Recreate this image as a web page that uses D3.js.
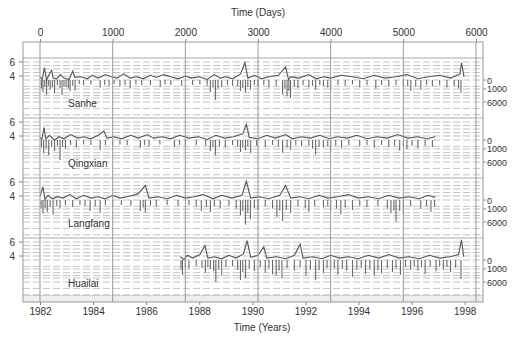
<!DOCTYPE html>
<html>
<head>
<meta charset="utf-8">
<script src="https://cdn.jsdelivr.net/npm/d3@7"></script>
<style>
  body { margin: 0; background: #fff; }
  text { font-family: "Liberation Sans", Arial, sans-serif; fill: #333; }
</style>
</head>
<body>
<script>
// stations, top to bottom
const stations = ['Sanhe', 'Qingxian', 'Langfang', 'Huailai']

const dayTicks = [0, 1000, 2000, 3000, 4000, 5000, 6000]
const yearTicks = [1982, 1984, 1986, 1988, 1990, 1992, 1994, 1996, 1998]
const levelTicks = [6, 4]
const rainTicks = [0, 1000, 6000]

// water level [day, value]
const sanheLevel = [[0,3.9],[30,3.5],[60,5.2],[90,3.4],[120,4.1],[160,4.8],[180,3.7],[230,3.6],[280,4.2],[330,3.7],[400,3.5],[450,4.7],[480,3.8],[560,3.9],[650,3.6],[720,4.1],[800,3.7],[900,4.2],[980,3.9],[1060,3.7],[1150,4.3],[1240,3.7],[1330,3.9],[1420,3.6],[1520,4.1],[1600,3.8],[1700,4.2],[1800,3.9],[1900,3.6],[2000,4.0],[2080,3.7],[2200,3.9],[2300,3.5],[2400,4.2],[2480,3.7],[2560,3.9],[2650,3.6],[2760,4.3],[2820,5.9],[2860,3.7],[2950,4.1],[3050,3.6],[3150,3.9],[3280,4.1],[3380,5.3],[3420,3.5],[3450,3.9],[3560,3.7],[3700,4.2],[3800,3.6],[3900,3.9],[4000,3.7],[4150,4.1],[4300,3.9],[4450,3.6],[4600,4.1],[4750,3.7],[4900,3.9],[5050,4.2],[5200,3.6],[5350,3.9],[5500,4.1],[5650,3.7],[5780,4.3],[5800,5.9],[5835,3.9]]
const qingxianLevel = [[0,3.8],[25,3.5],[55,5.2],[80,3.6],[130,4.1],[200,3.4],[260,3.9],[330,3.6],[420,4.2],[520,3.7],[600,3.9],[700,3.6],[800,4.1],[880,4.7],[920,3.7],[1020,3.9],[1120,3.6],[1250,4.1],[1350,3.7],[1480,4.2],[1560,3.7],[1680,3.9],[1800,3.6],[1920,4.1],[2050,3.7],[2180,3.9],[2300,3.5],[2420,4.1],[2540,3.7],[2660,3.9],[2790,4.3],[2840,5.7],[2880,3.8],[3000,3.6],[3120,4.1],[3240,3.7],[3380,4.2],[3470,3.6],[3600,3.9],[3720,3.7],[3850,4.1],[3980,3.6],[4100,3.9],[4230,3.7],[4360,4.1],[4500,3.6],[4640,3.9],[4780,3.7],[4920,4.2],[5060,3.7],[5200,3.9],[5320,3.6],[5440,3.9]]
const langfangLevel = [[0,3.9],[40,5.3],[70,3.5],[110,4.1],[170,3.6],[240,3.9],[320,3.7],[410,4.2],[500,3.6],[600,4.1],[700,3.7],[800,3.9],[900,3.6],[1000,4.1],[1100,3.7],[1200,3.9],[1350,4.3],[1450,5.5],[1500,3.7],[1620,3.9],[1750,3.6],[1880,4.1],[2000,3.7],[2120,3.9],[2250,4.2],[2380,3.6],[2500,4.1],[2640,3.7],[2780,4.1],[2840,6.1],[2900,3.7],[3020,3.9],[3150,3.6],[3300,4.1],[3380,5.5],[3450,3.7],[3580,3.9],[3700,3.6],[3840,4.1],[3960,3.7],[4100,3.9],[4240,4.2],[4380,3.7],[4520,3.9],[4660,3.6],[4800,4.1],[4940,3.7],[5080,3.9],[5220,3.6],[5340,4.1],[5440,3.8]]
const huailaiLevel = [[1930,3.9],[1980,3.5],[2030,4.1],[2100,3.7],[2200,4.2],[2270,5.5],[2310,3.7],[2400,3.9],[2500,3.6],[2600,4.1],[2700,3.7],[2800,4.3],[2850,6.2],[2900,3.8],[3000,4.1],[3080,5.3],[3120,3.7],[3250,3.9],[3380,3.6],[3500,4.1],[3580,5.7],[3620,3.7],[3750,3.9],[3880,3.6],[4000,4.1],[4120,3.7],[4250,3.9],[4380,3.6],[4520,4.1],[4660,3.7],[4800,4.2],[4940,3.7],[5080,3.9],[5220,3.6],[5360,4.1],[5500,3.7],[5640,3.9],[5760,4.2],[5800,6.3],[5830,3.9]]

// rainfall [day, amount], hangs down from the 0 line
const sanheRain = [[20,900],[40,1800],[65,600],[90,2700],[115,400],[140,1200],[170,700],[200,2100],[240,300],[276,800],[303,2800],[330,500],[360,600],[390,900],[414,1500],[450,400],[483,1400],[540,200],[600,300],[700,250],[828,700],[890,300],[950,400],[1020,200],[1100,500],[1170,300],[1241,900],[1320,250],[1400,350],[1520,300],[1655,600],[1720,250],[1800,300],[1950,450],[2100,300],[2200,250],[2300,400],[2345,1800],[2380,700],[2414,5000],[2450,900],[2500,600],[2580,300],[2650,400],[2720,500],[2759,1500],[2790,800],[2828,1900],[2860,600],[2897,1100],[2950,300],[3000,500],[3080,300],[3150,700],[3250,400],[3338,2600],[3370,900],[3400,3300],[3425,1500],[3448,4000],[3500,600],[3550,800],[3620,300],[3700,600],[3750,400],[3793,1200],[3850,300],[3900,500],[3960,700],[4000,1300],[4100,300],[4200,400],[4300,250],[4400,700],[4500,300],[4621,900],[4700,300],[4800,500],[4900,300],[5000,600],[5060,400],[5103,1400],[5170,500],[5241,1200],[5320,300],[5400,500],[5500,300],[5600,700],[5700,400],[5760,900],[5793,2000]]
const qingxianRain = [[20,700],[50,2200],[85,900],[120,2800],[160,600],[200,1500],[240,400],[276,4900],[310,600],[350,900],[420,300],[500,700],[600,250],[700,300],[828,1200],[900,300],[1000,400],[1100,250],[1200,300],[1380,800],[1440,300],[1500,500],[1650,250],[1850,600],[1920,300],[2000,400],[2150,300],[2280,400],[2345,1500],[2380,600],[2414,2900],[2470,500],[2550,700],[2650,300],[2720,500],[2759,1800],[2790,700],[2828,1300],[2860,500],[2900,2200],[2980,400],[3100,600],[3200,300],[3280,500],[3338,2000],[3400,700],[3450,1200],[3520,300],[3600,500],[3700,400],[3750,900],[3793,2600],[3840,600],[3900,700],[3960,500],[4000,1800],[4070,400],[4150,900],[4250,300],[4400,500],[4500,300],[4600,700],[4700,300],[4800,600],[4880,400],[4950,1400],[5000,500],[5050,1000],[5120,400],[5200,800],[5300,400],[5400,600]]
const langfangRain = [[15,900],[40,2300],[70,800],[100,1700],[140,600],[180,2600],[230,400],[276,900],[350,300],[450,600],[550,300],[620,400],[690,1500],[760,500],[828,2000],[900,300],[1000,500],[1120,300],[1250,400],[1380,1600],[1420,700],[1450,1900],[1520,400],[1600,500],[1750,300],[1900,400],[2050,300],[2150,500],[2220,1400],[2290,600],[2345,1800],[2400,500],[2480,900],[2600,400],[2700,900],[2759,3000],[2790,1500],[2828,7500],[2860,2000],[2897,4500],[2950,800],[3000,1200],[3100,500],[3200,900],[3260,3500],[3300,1400],[3338,5500],[3390,1200],[3450,2100],[3550,500],[3650,800],[3700,1700],[3780,400],[3900,700],[3960,500],[4000,1400],[4080,900],[4140,2500],[4200,700],[4300,1200],[4400,400],[4500,600],[4650,400],[4780,900],[4830,2200],[4870,1400],[4900,5800],[4950,1500],[5000,2400],[5100,500],[5240,1000],[5320,500],[5380,1800],[5430,600]]
const huailaiRain = [[1940,1200],[1960,2800],[2000,700],[2050,900],[2150,400],[2230,800],[2276,2000],[2310,600],[2345,1000],[2390,1500],[2420,6000],[2460,1200],[2500,3000],[2560,600],[2650,500],[2720,1200],[2759,5000],[2790,1800],[2828,4000],[2880,900],[2950,1500],[3030,700],[3100,2000],[3150,900],[3200,2600],[3250,3000],[3290,1400],[3330,4300],[3400,800],[3500,1400],[3580,700],[3660,3000],[3720,1200],[3793,5000],[3840,1300],[3900,2200],[3950,800],[4000,1500],[4050,900],[4100,2600],[4160,1000],[4220,1400],[4300,3500],[4360,1200],[4420,900],[4480,2400],[4540,1100],[4600,3000],[4650,1300],[4700,2200],[4780,800],[4850,1800],[4900,900],[4960,2700],[5030,600],[5100,1200],[5150,500],[5200,1400],[5250,700],[5300,2400],[5370,600],[5450,1600],[5500,500],[5550,1200],[5600,600],[5650,1800],[5720,700],[5793,4500]]

const levels = [sanheLevel, qingxianLevel, langfangLevel, huailaiLevel]
const rains = [sanheRain, qingxianRain, langfangRain, huailaiRain]

const W = 513, H = 338
const box = { left: 23, right: 483, top: 42, bottom: 302 }
const panelTop = 58, panelH = 60

const svg = d3.select('body').append('svg')
  .attr('width', W)
  .attr('height', H)

const x = d3.scaleLinear().domain([0, 6000]).range([40, 476])
const xYear = d3.scaleLinear()
  .domain([1982, 1982 + 6000 / 365.25])
  .range(x.range())

// grid lines for each panel (dashed)
const gridLevels = [6, 5.5, 5, 4.5, 4]
const gridRain = [0, 500, 1000, 2000, 3000, 4000, 6000, 10000, 15000]

stations.forEach((name, i) => {
  const top = panelTop + i * panelH
  const yL = d3.scaleLinear().domain([4, 6]).range([top + 18, top + 4])
  const yR = d3.scaleSqrt().domain([0, 6000]).range([top + 22, top + 44])

  const g = svg.append('g')

  g.append('line')
    .attr('x1', box.left).attr('x2', box.right)
    .attr('y1', top).attr('y2', top)
    .attr('stroke', '#aaa').attr('stroke-width', 1)

  const gy = gridLevels.map(yL).concat(gridRain.map(yR))
  g.selectAll('line.grid')
    .data(gy)
    .enter().append('line')
      .attr('class', 'grid')
      .attr('x1', box.left).attr('x2', box.right)
      .attr('y1', (d) => d).attr('y2', (d) => d)
      .attr('stroke', '#c4c4c4')
      .attr('stroke-width', 1)
      .attr('stroke-dasharray', '7,3')

  // rain bars
  g.selectAll('line.rain')
    .data(rains[i])
    .enter().append('line')
      .attr('class', 'rain')
      .attr('x1', (d) => x(d[0])).attr('x2', (d) => x(d[0]))
      .attr('y1', yR(0)).attr('y2', (d) => yR(d[1]))
      .attr('stroke', '#6a6a6a')
      .attr('stroke-width', 1.1)

  // level line
  const line = d3.line()
    .x((d) => x(d[0]))
    .y((d) => yL(d[1]))
  g.append('path')
    .datum(levels[i])
    .attr('d', line)
    .attr('fill', 'none')
    .attr('stroke', '#555')
    .attr('stroke-width', 1.1)

  // left axis labels
  g.selectAll('text.lv')
    .data(levelTicks)
    .enter().append('text')
      .attr('class', 'lv')
      .attr('x', 15).attr('y', (d) => yL(d) + 3.5)
      .attr('text-anchor', 'end')
      .attr('font-size', 10)
      .text((d) => d)
  g.selectAll('line.lt')
    .data(levelTicks)
    .enter().append('line')
      .attr('class', 'lt')
      .attr('x1', box.left - 4).attr('x2', box.left)
      .attr('y1', yL).attr('y2', yL)
      .attr('stroke', '#888')

  // right axis labels
  g.selectAll('text.rv')
    .data(rainTicks)
    .enter().append('text')
      .attr('class', 'rv')
      .attr('x', box.right + 4).attr('y', (d) => yR(d) + 3.5)
      .attr('font-size', 9)
      .text((d) => d)
  g.selectAll('line.rt')
    .data(rainTicks)
    .enter().append('line')
      .attr('class', 'rt')
      .attr('x1', box.right).attr('x2', box.right + 3)
      .attr('y1', yR).attr('y2', yR)
      .attr('stroke', '#888')

  g.append('text')
    .attr('x', 68).attr('y', top + 49)
    .attr('font-size', 10)
    .text(name)
})

// bottom strip
svg.append('line')
  .attr('x1', box.left).attr('x2', box.right)
  .attr('y1', 296).attr('y2', 296)
  .attr('stroke', '#aaa')
svg.append('rect')
  .attr('x', box.left).attr('y', 296)
  .attr('width', box.right - box.left).attr('height', box.bottom - 296)
  .attr('fill', '#eee')

// vertical day lines through the whole box
svg.selectAll('line.vday')
  .data(dayTicks)
  .enter().append('line')
    .attr('class', 'vday')
    .attr('x1', x).attr('x2', x)
    .attr('y1', box.top).attr('y2', box.bottom)
    .attr('stroke', '#999')
    .attr('stroke-width', 1)

// frame
svg.append('rect')
  .attr('x', box.left).attr('y', box.top)
  .attr('width', box.right - box.left)
  .attr('height', box.bottom - box.top)
  .attr('fill', 'none')
  .attr('stroke', '#999')

// top axis (days)
svg.append('g')
  .attr('transform', `translate(0,${box.top})`)
  .call(d3.axisTop(x).tickValues(dayTicks).tickSize(3).tickFormat(d3.format('d')))
  .call((a) => a.select('.domain').remove())
  .call((a) => a.selectAll('line').attr('stroke', '#888'))
  .call((a) => a.selectAll('text').attr('font-size', 10).attr('fill', '#333')
    .attr('font-family', '"Liberation Sans", Arial, sans-serif'))

// bottom axis (years)
svg.append('g')
  .attr('transform', `translate(0,${box.bottom})`)
  .call(d3.axisBottom(xYear).tickValues(yearTicks).tickSize(3).tickFormat(d3.format('d')))
  .call((a) => a.select('.domain').remove())
  .call((a) => a.selectAll('line').attr('stroke', '#888'))
  .call((a) => a.selectAll('text').attr('font-size', 10).attr('fill', '#333')
    .attr('font-family', '"Liberation Sans", Arial, sans-serif'))

svg.append('text')
  .attr('x', 258).attr('y', 16)
  .attr('text-anchor', 'middle')
  .attr('font-size', 10)
  .text('Time (Days)')

svg.append('text')
  .attr('x', 262).attr('y', 331)
  .attr('text-anchor', 'middle')
  .attr('font-size', 10)
  .text('Time (Years)')
</script>
</body>
</html>
